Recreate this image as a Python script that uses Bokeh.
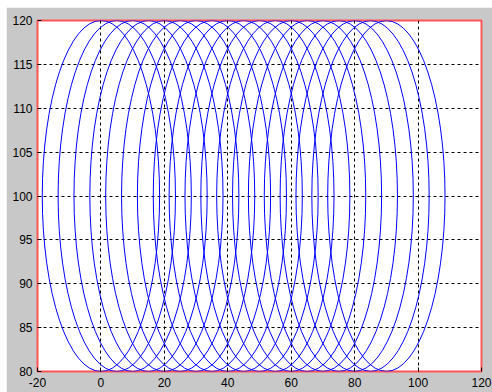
from bokeh.plotting import figure
from bokeh.models import Range1d, FixedTicker, Spacer
from bokeh.layouts import row, column
from bokeh.embed import file_html
from bokeh.resources import INLINE

# Ellipse family: centres along x, common centre height and axis lengths
centers_x = [0, 5, 10, 15, 20, 25, 30, 35, 40, 45, 50, 55, 60, 65, 70, 75, 80, 85, 90]
center_y = 100
ellipse_width = 37
ellipse_height = 40

x_ticks = [-20, 0, 20, 40, 60, 80, 100, 120]
x_tick_labels = ["-20", "0", "20", "40", "60", "80", "100", "120"]
y_ticks = [80, 85, 90, 95, 100, 105, 110, 115, 120]
y_tick_labels = ["80", "85", "90", "95", "100", "105", "110", "115", "120"]

p = figure(
    width=486, height=385,
    x_range=Range1d(-20, 120), y_range=Range1d(80, 120),
    output_backend="svg", toolbar_location=None,
    background_fill_color="white", border_fill_color="#c8c8c8",
    min_border_left=31, min_border_right=11,
    min_border_top=13, min_border_bottom=21,
)

p.ellipse(
    x=centers_x, y=[center_y] * len(centers_x),
    width=ellipse_width, height=ellipse_height,
    fill_color=None, line_color="#0000ff", line_width=1,
)

p.xaxis.ticker = FixedTicker(ticks=x_ticks)
p.yaxis.ticker = FixedTicker(ticks=y_ticks)
p.xaxis.major_label_overrides = dict(zip(x_ticks, x_tick_labels))
p.yaxis.major_label_overrides = dict(zip(y_ticks, y_tick_labels))

for ax in (p.xaxis, p.yaxis):
    ax.axis_line_color = None
    ax.major_tick_in = 4
    ax.major_tick_out = 0
    ax.major_tick_line_color = "black"
    ax.minor_tick_line_color = None
    ax.major_label_text_font = "Liberation Sans"
    ax.major_label_text_font_size = "12px"
    ax.major_label_text_color = "black"
p.xaxis.major_label_standoff = 6
p.yaxis.major_label_standoff = 5

for g in (p.xgrid, p.ygrid):
    g.grid_line_color = "black"
    g.grid_line_dash = "3 3"
    g.grid_line_width = 1
p.xgrid.ticker = FixedTicker(ticks=x_ticks)
p.ygrid.ticker = FixedTicker(ticks=y_ticks)

p.outline_line_color = "#ff5555"
p.outline_line_width = 2

layout = row(Spacer(width=6), column(Spacer(height=7), p))

open("out.html", "w").write(file_html(layout, INLINE))
